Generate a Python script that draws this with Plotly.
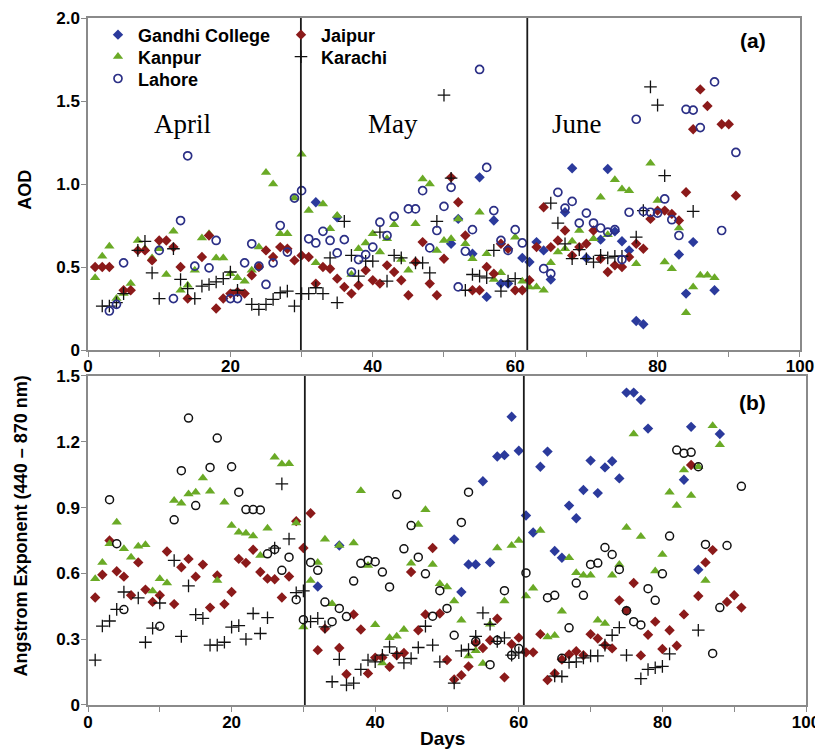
import plotly.graph_objects as go

# ---------------- Panel (a): AOD ----------------
gandhi_a_days = [32, 35, 51, 52, 54, 55, 56, 57, 58, 59, 61, 62, 63, 64, 65, 67, 68, 70, 72, 73, 74, 75, 76, 77, 78, 83, 84, 85, 88]
gandhi_a_aod = [0.89, 0.80, 0.64, 0.79, 0.58, 1.04, 0.32, 0.78, 0.40, 0.40, 0.555, 0.53, 0.65, 0.60, 0.425, 0.83, 1.095, 0.555, 0.665, 1.09, 0.715, 0.655, 0.60, 0.175, 0.155, 0.575, 0.34, 0.65, 0.36]

jaipur_a_days = [1, 2, 3, 5, 6, 7, 8, 9, 10, 11, 12, 13, 14, 16, 17, 18, 19, 20, 21, 22, 23, 24, 25, 26, 27, 28, 29, 30,
                 31, 32, 33, 34, 35, 36, 37, 38, 39, 40, 41, 42, 43, 44, 45, 46, 47, 48, 49, 50, 51, 52, 53, 54, 55, 56, 57, 58, 59, 60, 61,
                 62, 63, 64, 65, 66, 67, 68, 69, 70, 71, 72, 73, 74, 75, 76, 77, 78, 79, 80, 81, 82, 83, 84, 85, 86, 87, 89, 90, 91]
jaipur_a_aod = [0.50, 0.50, 0.50, 0.36, 0.36, 0.60, 0.60, 0.54, 0.66, 0.66, 0.62, 0.50, 0.31, 0.56, 0.69, 0.25, 0.31, 0.34, 0.35, 0.34, 0.45, 0.50, 0.60, 0.56, 0.62, 0.61, 0.54, 0.57,
                0.56, 0.40, 0.50, 0.49, 0.43, 0.38, 0.34, 0.39, 0.48, 0.42, 0.40, 0.51, 0.47, 0.42, 0.33, 0.53, 0.65, 0.40, 0.33, 0.55, 1.04, 0.89, 0.69, 0.36, 0.36, 0.50, 0.46, 0.64, 0.61, 0.36, 0.36,
                0.42, 0.62, 0.86, 0.62, 0.66, 0.72, 0.57, 0.62, 0.64, 0.72, 0.55, 0.47, 0.51, 0.50, 0.56, 0.64, 0.61, 0.79, 0.84, 0.84, 0.82, 0.78, 0.95, 1.33, 1.57, 1.47, 1.36, 1.36, 0.93]

kanpur_a_days = [1, 2, 3, 4, 5, 6, 7, 8, 9, 10, 11, 12, 13, 14, 15, 16, 17, 18, 19, 20, 21, 22, 23, 24, 25, 26, 27, 28, 29, 30,
                 31, 32, 33, 34, 35, 37, 38, 39, 40, 41, 42, 43, 44, 45, 46, 47, 48, 49, 50, 51, 52, 53, 54, 55, 56, 57, 58, 59, 60, 61,
                 62, 63, 64, 65, 66, 67, 68, 69, 71, 72, 73, 74, 75, 76, 77, 79, 80, 81, 82, 83, 84, 85, 86, 87, 88]
kanpur_a_aod = [0.435, 0.565, 0.625, 0.31, 0.34, 0.40, 0.66, 0.61, 0.555, 0.61, 0.455, 0.715, 0.36, 0.39, 0.48, 0.675, 0.70, 0.555, 0.555, 0.46, 0.435, 0.415, 0.48, 0.62, 1.07, 1.0, 0.70, 0.70, 0.915, 1.18,
                0.84, 0.525, 0.88, 0.73, 0.81, 0.455, 0.61, 0.645, 0.70, 0.59, 0.67, 0.755, 0.545, 0.48, 0.76, 1.03, 1.0, 0.60, 0.66, 0.67, 0.79, 0.64, 0.55, 0.83, 0.58, 0.425, 0.465, 0.615, 0.68, 0.415,
                0.38, 0.38, 0.36, 0.525, 0.59, 0.61, 0.655, 0.72, 0.67, 0.92, 0.695, 1.025, 0.97, 0.96, 0.52, 1.125, 0.90, 0.53, 0.49, 0.735, 0.225, 0.38, 0.45, 0.45, 0.435]

karachi_a_days = [2, 3, 4, 5, 7, 8, 9, 10, 12, 13, 14, 15, 16, 17, 18, 19, 20, 21, 23, 24, 25, 26, 27, 28, 29, 30,
                  31, 32, 33, 34, 35, 36, 37, 38, 39, 40, 41, 42, 43, 44, 46, 47, 48, 49, 50, 51, 53, 54, 55, 56, 57, 58, 59, 60,
                  65, 66, 67, 68, 69, 70, 71, 72, 73, 74, 75, 77, 78, 79, 80, 81, 85]
karachi_a_aod = [0.265, 0.265, 0.285, 0.34, 0.60, 0.655, 0.465, 0.31, 0.61, 0.425, 0.37, 0.31, 0.385, 0.395, 0.41, 0.43, 0.47, 0.36, 0.275, 0.245, 0.275, 0.305, 0.345, 0.355, 0.265, 0.34,
                 0.34, 0.375, 0.34, 0.555, 0.285, 0.775, 0.57, 0.445, 0.535, 0.535, 0.71, 0.415, 0.57, 0.555, 0.525, 0.525, 0.465, 0.775, 1.535, 1.035, 0.36, 0.455, 0.445, 0.435, 0.60, 0.355, 0.415, 0.43,
                 0.885, 0.765, 0.64, 0.55, 0.605, 0.55, 0.53, 0.57, 0.555, 0.565, 0.565, 0.68, 0.84, 1.585, 1.475, 1.05, 0.835]

lahore_a_days = [3, 4, 5, 10, 12, 13, 14, 15, 17, 18, 20, 21, 22, 23, 24, 25, 26, 27, 28, 29, 30,
                 31, 32, 33, 34, 35, 36, 37, 38, 39, 40, 41, 42, 43, 45, 46, 47, 48, 49, 50, 51, 52, 53, 54, 55, 56, 57, 58, 59, 60, 61,
                 64, 65, 66, 67, 68, 69, 70, 71, 72, 73, 74, 75, 76, 77, 78, 79, 80, 81, 82, 83, 84, 85, 86, 88, 89, 91]
lahore_a_aod = [0.235, 0.275, 0.525, 0.60, 0.31, 0.78, 1.17, 0.505, 0.495, 0.66, 0.31, 0.31, 0.525, 0.64, 0.505, 0.395, 0.525, 0.75, 0.59, 0.915, 0.96,
                0.67, 0.645, 0.715, 0.66, 0.585, 0.665, 0.47, 0.545, 0.575, 0.62, 0.77, 0.69, 0.805, 0.85, 0.85, 0.96, 0.615, 0.72, 0.865, 0.98, 0.38, 0.595, 0.725, 1.69, 1.10, 0.84, 0.66, 0.60, 0.725, 0.645,
                0.49, 0.46, 0.95, 0.855, 0.895, 0.765, 0.825, 0.765, 0.735, 0.71, 0.725, 0.545, 0.83, 1.39, 0.835, 0.83, 0.825, 0.91, 0.785, 0.69, 1.45, 1.445, 1.34, 1.615, 0.72, 1.19]

# ---------------- Panel (b): Angstrom exponent ----------------
gandhi_b_days = [32, 35, 51, 52, 53, 54, 55, 56, 57, 58, 59, 60, 61, 62, 63, 64, 65, 66, 67, 68, 69, 70, 71, 72, 73, 74, 75, 76, 77, 78, 83, 84, 85, 88]
gandhi_b_ae = [0.54, 0.727, 0.755, 0.515, 0.641, 0.641, 1.02, 0.65, 1.133, 1.139, 1.314, 1.159, 0.864, 0.786, 1.086, 1.155, 0.702, 0.671, 0.909, 0.851, 0.98, 1.114, 0.966, 1.083, 1.111, 1.033, 1.424, 1.424, 1.391, 1.26, 1.027, 1.268, 0.617, 1.235]

jaipur_b_days = [1, 2, 3, 4, 5, 6, 7, 8, 9, 10, 11, 12, 13, 14, 15, 16, 17, 18, 19, 20, 21, 22, 23, 24, 25, 26, 27, 28, 29, 30,
                 31, 32, 33, 35, 36, 37, 38, 39, 40, 41, 42, 43, 44, 45, 46, 47, 48, 49, 50, 51, 52, 53, 54, 55, 56, 57, 58, 59, 60, 61,
                 62, 63, 64, 65, 66, 67, 68, 69, 70, 71, 72, 73, 74, 75, 76, 77, 78, 79, 80, 81, 82, 83, 84, 85, 86, 87, 89, 90, 91]
jaipur_b_ae = [0.49, 0.594, 0.75, 0.61, 0.585, 0.50, 0.65, 0.526, 0.47, 0.50, 0.70, 0.46, 0.628, 0.666, 0.585, 0.64, 0.444, 0.59, 0.46, 0.515, 0.666, 0.648, 0.708, 0.606, 0.576, 0.573, 0.49, 0.586, 0.838, 0.716,
               0.874, 0.25, 0.348, 0.26, 0.14, 0.413, 0.344, 0.144, 0.216, 0.216, 0.174, 0.227, 0.237, 0.606, 0.341, 0.413, 0.716, 0.417, 0.205, 0.116, 0.136, 0.176, 0.283, 0.26, 0.295, 0.393, 0.126, 0.277, 0.307, 0.24,
               0.24, 0.323, 0.114, 0.144, 0.207, 0.23, 0.245, 0.227, 0.323, 0.303, 0.273, 0.258, 0.477, 0.43, 0.556, 0.226, 0.32, 0.38, 0.255, 0.341, 0.27, 0.413, 1.094, 0.497, 0.65, 0.706, 0.47, 0.50, 0.444]

kanpur_b_days = [1, 2, 3, 4, 5, 6, 7, 8, 9, 10, 11, 12, 13, 14, 15, 16, 17, 18, 19, 20, 21, 22, 23, 24, 25, 26, 27, 28, 29, 30,
                 31, 32, 33, 34, 35, 37, 38, 39, 40, 41, 42, 43, 44, 45, 46, 47, 48, 49, 50, 51, 52, 53, 54, 55, 56, 57, 58, 59, 60, 61,
                 62, 63, 64, 65, 66, 67, 68, 69, 70, 71, 72, 73, 74, 75, 76, 77, 79, 80, 81, 82, 83, 84, 85, 86, 87, 88]
kanpur_b_ae = [0.576, 0.65, 0.735, 0.833, 0.712, 0.674, 0.724, 0.73, 0.52, 0.576, 0.556, 0.932, 0.92, 0.962, 0.97, 1.035, 0.974, 0.568, 0.924, 0.818, 0.788, 0.783, 0.77, 0.682, 0.806, 1.129, 1.098, 1.10, 0.83, 0.356,
               0.568, 0.65, 0.755, 0.462, 0.727, 0.738, 0.977, 0.636, 0.366, 0.192, 0.307, 0.313, 0.344, 0.646, 0.823, 0.89, 0.641, 0.553, 0.538, 0.474, 0.386, 0.223, 0.247, 0.189, 0.368, 0.716, 0.474, 0.727, 0.75, 0.497,
               0.532, 0.795, 0.31, 0.317, 0.427, 0.671, 0.603, 0.592, 0.592, 0.386, 0.371, 0.592, 0.641, 0.809, 1.235, 0.768, 0.611, 0.686, 0.97, 0.909, 1.071, 0.955, 1.086, 0.568, 1.273, 1.186]

karachi_b_days = [1, 2, 3, 4, 5, 7, 8, 9, 10, 12, 13, 14, 15, 16, 17, 18, 19, 20, 21, 22, 23, 24, 25, 26, 27, 28, 29, 30,
                  31, 32, 33, 34, 35, 36, 37, 38, 39, 40, 41, 42, 43, 44, 45, 46, 47, 48, 49, 51, 52, 53, 54, 55, 56, 57, 58, 59, 60,
                  65, 66, 67, 68, 69, 70, 71, 72, 73, 74, 75, 77, 78, 79, 80, 81, 85]
karachi_b_ae = [0.205, 0.36, 0.383, 0.436, 0.515, 0.488, 0.286, 0.35, 0.465, 0.659, 0.313, 0.543, 0.412, 0.395, 0.273, 0.273, 0.286, 0.355, 0.362, 0.30, 0.417, 0.326, 0.398, 0.715, 1.008, 0.757, 0.512, 0.52,
                0.38, 0.395, 0.356, 0.106, 0.208, 0.091, 0.10, 0.162, 0.205, 0.197, 0.227, 0.265, 0.235, 0.192, 0.212, 0.262, 0.359, 0.273, 0.197, 0.10, 0.247, 0.253, 0.313, 0.42, 0.368, 0.29, 0.306, 0.227, 0.238,
                0.132, 0.13, 0.194, 0.197, 0.215, 0.224, 0.224, 0.273, 0.318, 0.353, 0.227, 0.12, 0.162, 0.17, 0.176, 0.233, 0.341]

lahore_b_days = [3, 4, 5, 10, 12, 13, 14, 15, 17, 18, 20, 21, 22, 23, 24, 25, 26, 27, 28, 29, 30,
                 31, 32, 33, 34, 35, 36, 37, 38, 39, 40, 41, 42, 43, 44, 45, 46, 47, 48, 49, 50, 51, 52, 53, 54, 56, 57, 58, 59, 60, 61,
                 64, 65, 66, 67, 68, 69, 70, 71, 72, 73, 74, 75, 76, 77, 78, 79, 80, 81, 82, 83, 84, 85, 86, 87, 88, 89, 91]
lahore_b_ae = [0.936, 0.735, 0.435, 0.359, 0.844, 1.068, 1.308, 0.909, 1.083, 1.217, 1.086, 0.97, 0.891, 0.891, 0.889, 0.689, 0.709, 0.614, 0.674, 0.48, 0.389,
               0.65, 0.614, 0.469, 0.38, 0.44, 0.403, 0.565, 0.646, 0.659, 0.653, 0.606, 0.538, 0.959, 0.712, 0.818, 0.674, 0.598, 0.405, 0.521, 0.44, 0.318, 0.832, 0.97, 0.29, 0.184, 0.295, 0.521, 0.227, 0.257, 0.602,
               0.489, 0.5, 0.213, 0.352, 0.556, 0.5, 0.641, 0.647, 0.718, 0.686, 0.618, 0.43, 0.38, 0.365, 0.53, 0.477, 0.598, 0.77, 1.162, 1.147, 1.152, 1.086, 0.732, 0.235, 0.444, 0.727, 0.997]

month_labels = ["April", "May", "June"]
month_label_days = [13.3, 42.8, 68.7]
boundaries_a = [29.9, 61.7]
boundaries_b = [30.2, 60.7]

x_tickvals = [0, 10, 20, 30, 40, 50, 60, 70, 80, 90, 100]
x_ticktext = ["0", "", "20", "", "40", "", "60", "", "80", "", "100"]
ya_tickvals = [0, 0.5, 1.0, 1.5, 2.0]
ya_ticktext = ["0", "0.5", "1.0", "1.5", "2.0"]
yb_tickvals = [0, 0.3, 0.6, 0.9, 1.2, 1.5]
yb_ticktext = ["0", "0.3", "0.6", "0.9", "1.2", "1.5"]

BLUE = "#2b3a9c"
RED = "#8b1a1a"
GREEN = "#6aaa26"
NAVY = "#2b2f86"
BLACK = "#111111"
SANS = "Liberation Sans, Arial, sans-serif"

fig = go.Figure()

def add(days, vals, name, style, xa, ya, legend, showlegend):
    fig.add_trace(go.Scatter(x=days, y=vals, mode="markers", name=name, xaxis=xa, yaxis=ya,
                             marker=style, legend=legend, showlegend=showlegend))

sty_gandhi = dict(symbol="diamond", size=8, color=BLUE)
sty_jaipur = dict(symbol="diamond", size=8, color=RED)
sty_kanpur = dict(symbol="triangle-up", size=9, color=GREEN)
sty_karachi = dict(symbol="cross-thin", size=9, color=BLACK, line=dict(width=1.3, color=BLACK))
sty_lahore_a = dict(symbol="circle-open", size=8, color=NAVY, line=dict(width=1.7))
sty_lahore_b = dict(symbol="circle-open", size=8, color=BLACK, line=dict(width=1.5))

add(gandhi_a_days, gandhi_a_aod, "Gandhi College", sty_gandhi, "x", "y", "legend", True)
add(kanpur_a_days, kanpur_a_aod, "Kanpur", sty_kanpur, "x", "y", "legend2", True)
add(jaipur_a_days, jaipur_a_aod, "Jaipur", sty_jaipur, "x", "y", "legend4", True)
add(karachi_a_days, karachi_a_aod, "Karachi", sty_karachi, "x", "y", "legend5", True)
add(lahore_a_days, lahore_a_aod, "Lahore", sty_lahore_a, "x", "y", "legend3", True)

add(gandhi_b_days, gandhi_b_ae, "Gandhi College", sty_gandhi, "x2", "y2", "legend", False)
add(jaipur_b_days, jaipur_b_ae, "Jaipur", sty_jaipur, "x2", "y2", "legend", False)
add(kanpur_b_days, kanpur_b_ae, "Kanpur", sty_kanpur, "x2", "y2", "legend", False)
add(karachi_b_days, karachi_b_ae, "Karachi", sty_karachi, "x2", "y2", "legend", False)
add(lahore_b_days, lahore_b_ae, "Lahore", sty_lahore_b, "x2", "y2", "legend", False)

axis_common = dict(showline=True, mirror=True, linecolor="#8a8a8a", linewidth=1.5,
                   ticks="outside", tickcolor="#8a8a8a", ticklen=5, tickwidth=1.2,
                   showgrid=False, zeroline=False, automargin=False,
                   tickfont=dict(family=SANS, size=17, color="black", weight="bold"))

legend_font = dict(family=SANS, size=18, color="black", weight="bold")

def leg(x, y):
    return dict(x=x, y=y, xanchor="left", yanchor="middle", bgcolor="rgba(0,0,0,0)",
                font=legend_font, tracegroupgap=0)

# page body has an 8px margin: shrink the figure so it fills the 823x749 window
fig.update_layout(
    width=815, height=741,
    margin=dict(l=80, r=17, t=8, b=44),
    paper_bgcolor="white", plot_bgcolor="white",
    xaxis=dict(domain=[0, 0.9916], range=[0, 100], anchor="y", tickvals=x_tickvals, ticktext=x_ticktext,
               ticklabelstandoff=-5, **axis_common),
    yaxis=dict(domain=[0.5167, 1], range=[0, 2.0], anchor="x", tickvals=ya_tickvals, ticktext=ya_ticktext,
               ticklabelstandoff=-2, **axis_common),
    xaxis2=dict(domain=[0, 1], range=[0, 100], anchor="y2", tickvals=x_tickvals, ticktext=x_ticktext,
                ticklabelstandoff=-4, **axis_common),
    yaxis2=dict(domain=[0, 0.479], range=[0, 1.5], anchor="x2", tickvals=yb_tickvals, ticktext=yb_ticktext,
                ticklabelstandoff=-2, **axis_common),
    legend=leg(0.0139, 0.9753),
    legend2=leg(0.0139, 0.9434),
    legend3=leg(0.0139, 0.9115),
    legend4=leg(0.2688, 0.9753),
    legend5=leg(0.2688, 0.9434),
)

shapes = []
for b in boundaries_a:
    shapes.append(dict(type="line", xref="x", yref="y domain", x0=b, x1=b, y0=0, y1=1,
                       line=dict(color="#1a1a1a", width=1.8)))
for b in boundaries_b:
    shapes.append(dict(type="line", xref="x2", yref="y2 domain", x0=b, x1=b, y0=0, y1=1,
                       line=dict(color="#1a1a1a", width=1.8)))
fig.update_layout(shapes=shapes)

annotations = []
for lbl, d in zip(month_labels, month_label_days):
    annotations.append(dict(text=lbl, x=d, y=1.36, xref="x", yref="y", showarrow=False,
                            xanchor="center", yanchor="middle",
                            font=dict(family="Liberation Serif, Times New Roman, serif", size=27, color="black")))
annotations += [
    dict(text="(a)", x=0.926, y=0.967, xref="paper", yref="paper", showarrow=False,
         xanchor="center", yanchor="middle",
         font=dict(family=SANS, size=21, color="black", weight="bold")),
    dict(text="(b)", x=0.926, y=0.440, xref="paper", yref="paper", showarrow=False,
         xanchor="center", yanchor="middle",
         font=dict(family=SANS, size=21, color="black", weight="bold")),
    dict(text="AOD", x=-0.0877, y=0.750, xref="paper", yref="paper", showarrow=False, textangle=-90,
         xanchor="center", yanchor="middle",
         font=dict(family=SANS, size=18, color="black", weight="bold")),
    dict(text="Angstrom Exponent (440 – 870 nm)", x=-0.0933, y=0.26, xref="paper", yref="paper",
         showarrow=False, textangle=-90, xanchor="center", yanchor="middle",
         font=dict(family=SANS, size=18, color="black", weight="bold")),
    dict(text="Days", x=0.494, y=-0.049, xref="paper", yref="paper", showarrow=False,
         xanchor="center", yanchor="middle",
         font=dict(family=SANS, size=19, color="black", weight="bold")),
]
fig.update_layout(annotations=annotations)

fig.write_html("out.html")
